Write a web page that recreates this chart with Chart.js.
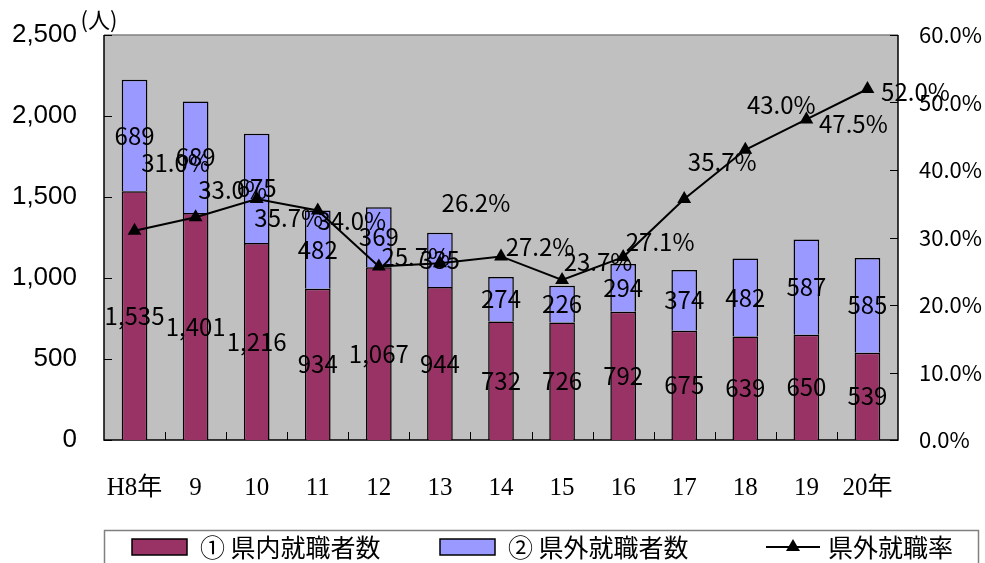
<!DOCTYPE html>
<html lang="ja">
<head>
<meta charset="utf-8">
<title>県内・県外就職者数と県外就職率</title>
<script src="https://cdn.jsdelivr.net/npm/chart.js@4.4.1/dist/chart.umd.min.js"></script>
<style>
  html, body { margin: 0; padding: 0; background: #fff; }
  #wrap { width: 985px; height: 563px; }
</style>
</head>
<body>
<div id="wrap"><canvas id="jobChart" width="985" height="563"></canvas></div>
<script>
// 年度ごとの就職者数と県外就職率
const years = ["H8年", "9", "10", "11", "12", "13", "14", "15", "16", "17", "18", "19", "20年"];
const inPref = [1535, 1401, 1216, 934, 1067, 944, 732, 726, 792, 675, 639, 650, 539];
const outPref = [689, 689, 675, 482, 369, 335, 274, 226, 294, 374, 482, 587, 585];
const outRate = [31.0, 33.0, 35.7, 34.0, 25.7, 26.2, 27.2, 23.7, 27.1, 35.7, 43.0, 47.5, 52.0];

const countTicks = [0, 500, 1000, 1500, 2000, 2500];
const rateTicks = [0, 10, 20, 30, 40, 50, 60];

// 率ラベルを点からずらす量 (px)
const rateLabelShift = [
  [41, -68], [37, -27], [32, 19], [34, 10], [37, -10], [36, -60], [39, -10],
  [36, -18], [37, -15], [38, -37], [36, -45], [47, 4], [48, 3]
];

const PURPLE = "#993366";
const BLUE = "#9999FF";
const labelFont = '24px "Noto Sans CJK JP", sans-serif';

function fmtCount(v) {
  return v.toLocaleString("en-US");
}

// 縦軸の幅を固定し、ラベル余白でプロット上端が下がらないようにする
function fixVertical(width) {
  return scale => {
    scale.width = width;
    scale.paddingTop = 0;
    scale.paddingBottom = 0;
  };
}

// プロットエリアの背景と枠線、内向きの目盛り
const plotFrame = {
  id: "plotFrame",
  beforeDatasetsDraw(chart) {
    const { ctx, chartArea: a } = chart;
    ctx.save();
    ctx.fillStyle = "#C0C0C0";
    ctx.fillRect(a.left, a.top, a.right - a.left, a.bottom - a.top);
    ctx.strokeStyle = "#808080";
    ctx.lineWidth = 1.5;
    ctx.beginPath();
    ctx.moveTo(a.left, a.top);
    ctx.lineTo(a.right, a.top);
    ctx.stroke();

    ctx.strokeStyle = "#000";
    ctx.beginPath();
    ctx.moveTo(a.left, a.top);
    ctx.lineTo(a.left, a.bottom);
    ctx.lineTo(a.right, a.bottom);
    ctx.lineTo(a.right, a.top);
    ctx.stroke();

    ctx.lineWidth = 1;
    ctx.beginPath();
    const y = chart.scales.y, y1 = chart.scales.y1;
    countTicks.forEach(v => {
      const py = Math.round(y.getPixelForValue(v)) + 0.5;
      ctx.moveTo(a.left, py);
      ctx.lineTo(a.left + 8, py);
    });
    rateTicks.forEach(v => {
      const py = Math.round(y1.getPixelForValue(v)) + 0.5;
      ctx.moveTo(a.right, py);
      ctx.lineTo(a.right - 8, py);
    });
    const step = (a.right - a.left) / years.length;
    for (let i = 1; i < years.length; i++) {
      const px = Math.round(a.left + step * i) + 0.5;
      ctx.moveTo(px, a.bottom);
      ctx.lineTo(px, a.bottom - 8);
    }
    ctx.stroke();
    ctx.restore();
  }
};

// 棒の中央と折れ線の点の横に値を書く
const valueLabels = {
  id: "valueLabels",
  afterDatasetsDraw(chart) {
    const { ctx } = chart;
    ctx.save();
    ctx.font = labelFont;
    ctx.fillStyle = "#000";
    ctx.textAlign = "center";
    ctx.textBaseline = "middle";
    [0, 1].forEach(di => {
      const ds = chart.data.datasets[di];
      chart.getDatasetMeta(di).data.forEach((bar, i) => {
        ctx.fillText(fmtCount(ds.data[i]), bar.x, (bar.y + bar.base) / 2);
      });
    });
    chart.getDatasetMeta(2).data.forEach((pt, i) => {
      const [dx, dy] = rateLabelShift[i];
      ctx.fillText(outRate[i].toFixed(1) + "%", pt.x + dx, pt.y + dy);
    });
    ctx.restore();
  }
};

// 下部の凡例
const legendBox = {
  id: "legendBox",
  afterDraw(chart) {
    const { ctx } = chart;
    const ds = chart.data.datasets;
    const cy = 547;
    ctx.save();
    ctx.fillStyle = "#fff";
    ctx.fillRect(104, 530, 874, 40);
    ctx.strokeStyle = "#808080";
    ctx.lineWidth = 1.5;
    ctx.strokeRect(104.5, 530.5, 874, 40);

    ctx.font = '25px "Noto Sans CJK JP", sans-serif';
    ctx.textBaseline = "middle";
    ctx.textAlign = "left";
    ctx.strokeStyle = "#000";

    [[132, 200], [440, 508]].forEach(([sx, tx], i) => {
      ctx.fillStyle = ds[i].backgroundColor;
      ctx.fillRect(sx, cy - 8, 55, 16);
      ctx.lineWidth = 1.5;
      ctx.strokeRect(sx, cy - 8, 55, 16);
      ctx.fillStyle = "#000";
      ctx.fillText(ds[i].label, tx, cy);
    });

    ctx.lineWidth = 2;
    ctx.beginPath();
    ctx.moveTo(766, cy);
    ctx.lineTo(820, cy);
    ctx.stroke();
    ctx.beginPath();
    ctx.moveTo(793, cy - 8);
    ctx.lineTo(800, cy + 4);
    ctx.lineTo(786, cy + 4);
    ctx.closePath();
    ctx.fillStyle = "#000";
    ctx.fill();
    ctx.fillText(ds[2].label, 828, cy);

    // 左軸の単位
    ctx.font = '22px "Noto Sans CJK JP", sans-serif';
    ctx.textAlign = "center";
    ctx.fillText("(人)", 99, 20);
    ctx.restore();
  }
};

new Chart(document.getElementById("jobChart"), {
  data: {
    labels: years,
    datasets: [
      {
        type: "bar",
        label: "① 県内就職者数",
        data: inPref,
        backgroundColor: PURPLE,
        borderColor: "#000",
        borderWidth: 1.5,
        yAxisID: "y",
        order: 1,
        barPercentage: 0.42,
        categoryPercentage: 1
      },
      {
        type: "bar",
        label: "② 県外就職者数",
        data: outPref,
        backgroundColor: BLUE,
        borderColor: "#000",
        borderWidth: 1.5,
        yAxisID: "y",
        order: 1,
        barPercentage: 0.42,
        categoryPercentage: 1
      },
      {
        type: "line",
        label: "県外就職率",
        data: outRate,
        borderColor: "#000",
        borderWidth: 2,
        backgroundColor: "#000",
        pointStyle: "triangle",
        pointRadius: 8,
        pointBackgroundColor: "#000",
        pointBorderWidth: 0,
        tension: 0,
        fill: false,
        yAxisID: "y1",
        order: 0
      }
    ]
  },
  options: {
    responsive: false,
    animation: false,
    devicePixelRatio: 1,
    layout: { autoPadding: false, padding: { top: 35, left: 0, right: 0, bottom: 0 } },
    plugins: {
      legend: { display: false },
      tooltip: { enabled: false }
    },
    scales: {
      x: {
        stacked: true,
        grid: { display: false, drawTicks: false },
        border: { display: false },
        ticks: {
          padding: 33,
          color: "#000",
          font: { family: '"Liberation Serif", "Noto Sans CJK JP", serif', size: 25 },
          maxRotation: 0,
          autoSkip: false
        },
        afterFit(scale) { scale.height = 123; }
      },
      y: {
        stacked: true,
        position: "left",
        min: countTicks[0],
        max: countTicks[countTicks.length - 1],
        grid: { display: false, drawTicks: false },
        border: { display: false },
        afterBuildTicks(scale) { scale.ticks = countTicks.map(v => ({ value: v })); },
        ticks: {
          padding: 27,
          color: "#000",
          font: { family: '"Liberation Sans", Arial, sans-serif', size: 26 },
          callback: v => fmtCount(v)
        },
        afterFit: fixVertical(104)
      },
      y1: {
        position: "right",
        min: rateTicks[0],
        max: rateTicks[rateTicks.length - 1],
        grid: { display: false, drawTicks: false },
        border: { display: false },
        afterBuildTicks(scale) { scale.ticks = rateTicks.map(v => ({ value: v })); },
        ticks: {
          padding: 21,
          color: "#000",
          font: { family: '"Noto Sans CJK JP", sans-serif', size: 22 },
          callback: v => v.toFixed(1) + "%"
        },
        afterFit: fixVertical(87)
      }
    }
  },
  plugins: [plotFrame, valueLabels, legendBox]
});
</script>
</body>
</html>
